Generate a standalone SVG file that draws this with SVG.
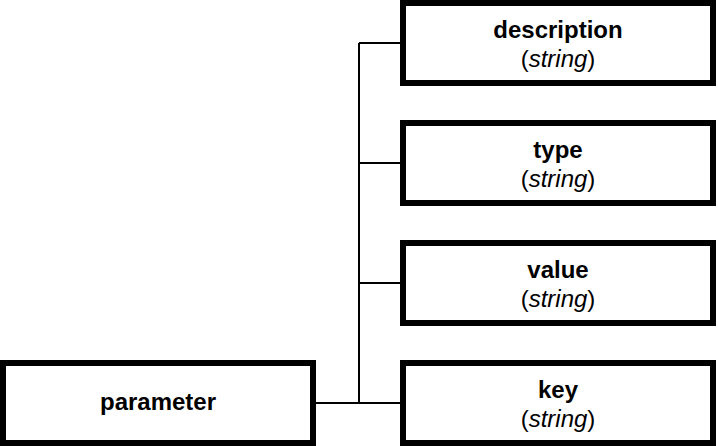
<svg xmlns="http://www.w3.org/2000/svg" width="718" height="446" viewBox="0 0 718 446">
<style>
.box{fill:#fff;stroke:#000;stroke-width:6}
.t{font-family:"Liberation Sans",Arial,sans-serif;font-size:24px;fill:#000;text-anchor:middle}
.b{font-weight:bold}
.i{font-style:italic}
.c{fill:none;stroke:#000;stroke-width:2}
</style>
<rect width="718" height="446" fill="#fff"/>
<g id="connectors">
<path class="c" d="M359,43V403M359,43H403M359,163H403M359,283H403M313,403H403"/>
</g>
<g id="parameter">
<rect class="box" x="3" y="363" width="310" height="80"/>
<text class="t b" x="158" y="410">parameter</text>
</g>
<g id="description">
<rect class="box" x="403" y="3" width="310" height="80"/>
<text class="t b" x="558" y="38">description</text>
<text class="t" x="558" y="67">(<tspan class="i">string</tspan>)</text>
</g>
<g id="type">
<rect class="box" x="403" y="123" width="310" height="80"/>
<text class="t b" x="558" y="158">type</text>
<text class="t" x="558" y="187">(<tspan class="i">string</tspan>)</text>
</g>
<g id="value">
<rect class="box" x="403" y="243" width="310" height="80"/>
<text class="t b" x="558" y="278">value</text>
<text class="t" x="558" y="307">(<tspan class="i">string</tspan>)</text>
</g>
<g id="key">
<rect class="box" x="403" y="363" width="310" height="80"/>
<text class="t b" x="558" y="398">key</text>
<text class="t" x="558" y="427">(<tspan class="i">string</tspan>)</text>
</g>
</svg>
